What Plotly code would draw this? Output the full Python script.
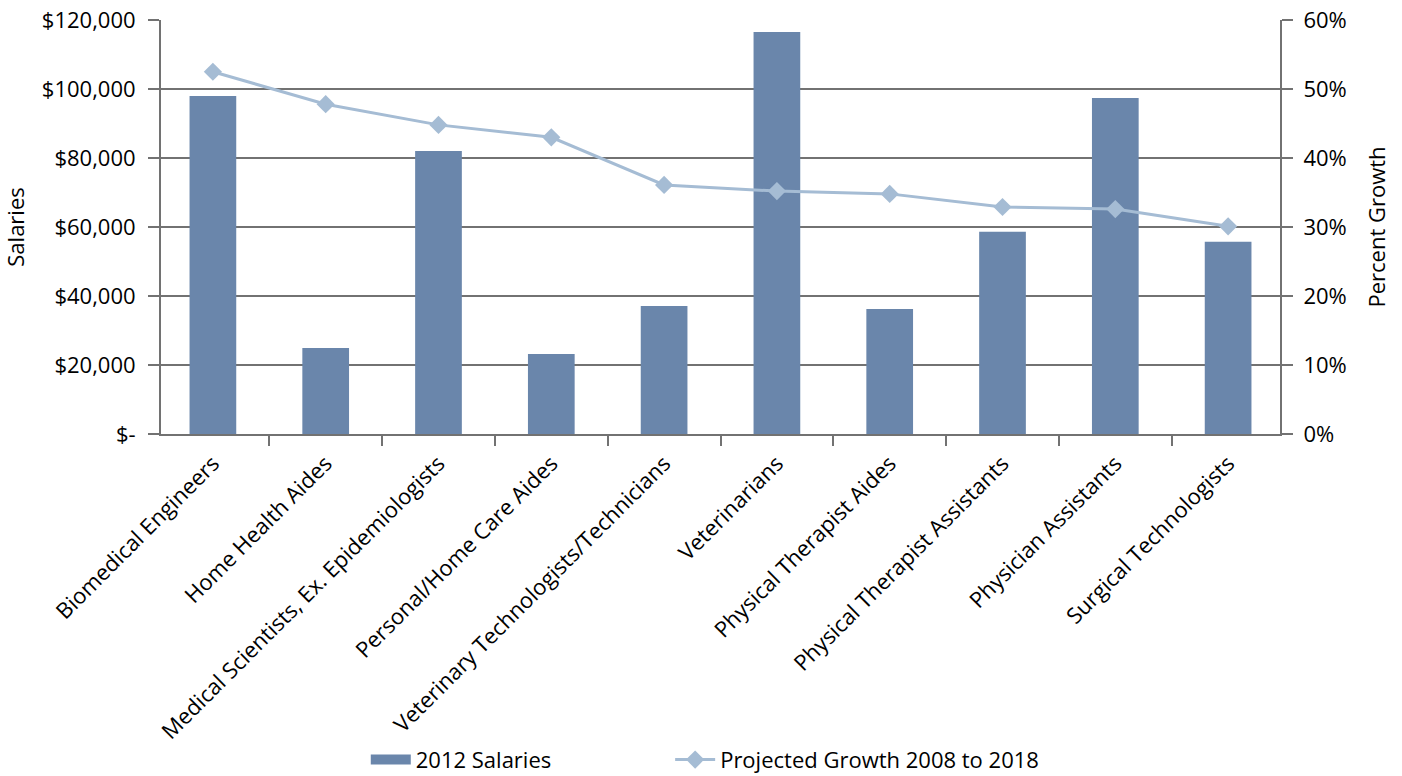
import plotly.graph_objects as go

# Occupations, 2012 median salaries and projected job growth 2008-2018
occupations = [
    "Biomedical Engineers",
    "Home Health Aides",
    "Medical Scientists, Ex. Epidemiologists",
    "Personal/Home Care Aides",
    "Veterinary Technologists/Technicians",
    "Veterinarians",
    "Physical Therapist Aides",
    "Physical Therapist Assistants",
    "Physician Assistants",
    "Surgical Technologists",
]
salaries_2012 = [98000, 24900, 82000, 23200, 37100, 116500, 36200, 58600, 97400, 55700]
growth_2008_2018 = [0.525, 0.478, 0.448, 0.430, 0.361, 0.352, 0.348, 0.329, 0.326, 0.301]

salary_ticks = [0, 20000, 40000, 60000, 80000, 100000, 120000]
salary_tick_text = ["$-", "$20,000", "$40,000", "$60,000", "$80,000", "$100,000", "$120,000"]

BAR_COLOR = "#6a86ab"
LINE_COLOR = "#a5bcd4"
AXIS_GRAY = "#727272"
FONT = "Open Sans"
FS = 22

fig = go.Figure()

fig.add_trace(go.Bar(
    x=occupations,
    y=salaries_2012,
    name="2012 Salaries",
    marker=dict(color=BAR_COLOR, line=dict(width=0)),
    width=0.414,
    showlegend=False,
    yaxis="y",
))
# legend entry drawn as a wide flat swatch for the bars
fig.add_trace(go.Scatter(
    x=[None], y=[None],
    mode="lines",
    name="2012 Salaries",
    line=dict(color=BAR_COLOR, width=10),
    yaxis="y",
    legend="legend",
))
fig.add_trace(go.Scatter(
    x=occupations,
    y=growth_2008_2018,
    name="Projected Growth 2008 to 2018",
    mode="lines+markers",
    line=dict(color=LINE_COLOR, width=3),
    marker=dict(symbol="diamond", size=14, color=LINE_COLOR),
    yaxis="y2",
    legend="legend2",
))

legend_common = dict(
    orientation="h",
    xanchor="left",
    y=-0.787,
    yanchor="middle",
    font=dict(size=FS),
    itemwidth=40,
    bgcolor="rgba(0,0,0,0)",
)

fig.update_layout(
    width=1402,
    height=776,
    margin=dict(l=161, r=122, t=20, b=342, autoexpand=False),
    paper_bgcolor="white",
    plot_bgcolor="white",
    font=dict(family=FONT, size=FS, color="black"),
    xaxis=dict(
        type="category",
        range=[-0.46, 9.46],
        tickangle=-45,
        automargin=False,
        showline=True,
        linecolor=AXIS_GRAY,
        linewidth=2,
        ticks="outside",
        tickson="boundaries",
        ticklen=10,
        tickwidth=2,
        tickcolor=AXIS_GRAY,
        showgrid=False,
        ticklabelstandoff=6,
        tickfont=dict(size=FS),
    ),
    yaxis=dict(
        range=[0, 120000],
        tickvals=salary_ticks,
        ticktext=salary_tick_text,
        automargin=False,
        showgrid=True,
        gridcolor=AXIS_GRAY,
        gridwidth=2,
        zeroline=False,
        showline=True,
        linecolor=AXIS_GRAY,
        linewidth=2,
        ticks="outside",
        ticklen=11,
        tickwidth=2,
        tickcolor=AXIS_GRAY,
        ticklabelstandoff=8,
        title=dict(text="Salaries", standoff=18, font=dict(size=FS)),
        tickfont=dict(size=FS),
    ),
    yaxis2=dict(
        range=[0, 0.6],
        dtick=0.1,
        tickformat=".0%",
        overlaying="y",
        side="right",
        automargin=False,
        showgrid=False,
        zeroline=False,
        showline=True,
        linecolor=AXIS_GRAY,
        linewidth=2,
        ticks="outside",
        ticklen=11,
        tickwidth=2,
        tickcolor=AXIS_GRAY,
        ticklabelstandoff=6,
        title=dict(text="Percent Growth", standoff=24, font=dict(size=FS)),
        tickfont=dict(size=FS),
    ),
    legend=dict(x=0.183, **legend_common),
    legend2=dict(x=0.455, **legend_common),
)

fig.write_html("out.html")
